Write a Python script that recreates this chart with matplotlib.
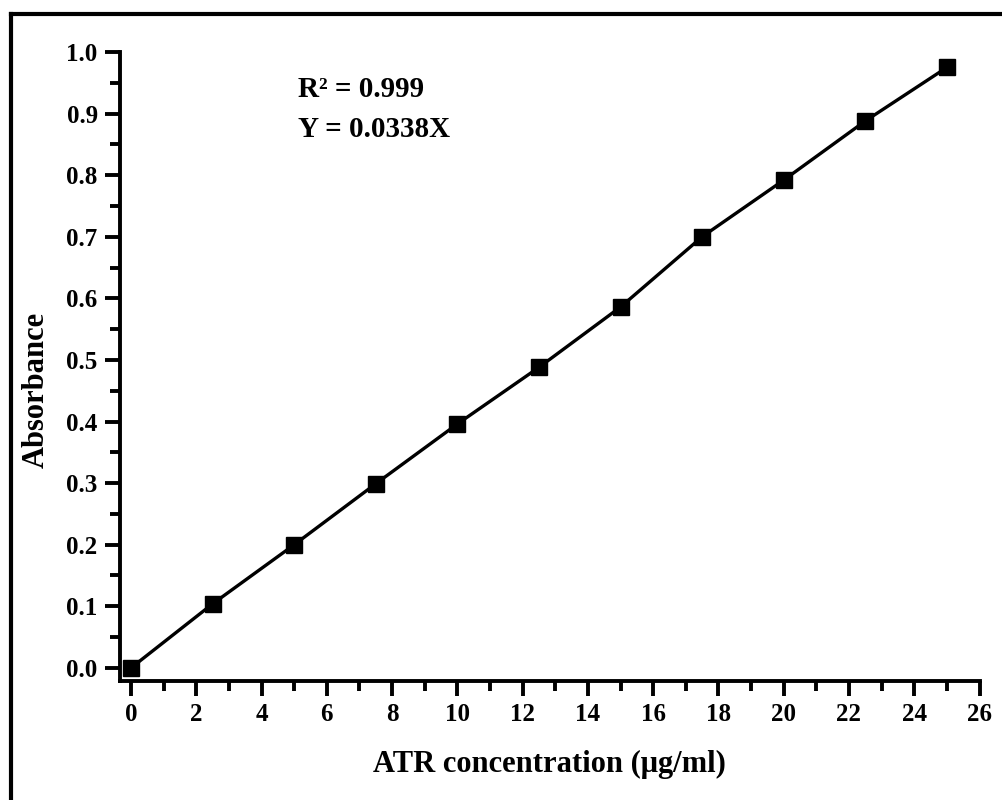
import matplotlib.pyplot as plt
from matplotlib.lines import Line2D
from matplotlib.ticker import MultipleLocator, FormatStrFormatter

concentration = [0, 2.5, 5, 7.5, 10, 12.5, 15, 17.5, 20, 22.5, 25]
absorbance = [0.0, 0.104, 0.200, 0.299, 0.396, 0.488, 0.586, 0.700, 0.792, 0.888, 0.975]
x_ticks = [0, 2, 4, 6, 8, 10, 12, 14, 16, 18, 20, 22, 24, 26]

plt.rcParams["font.family"] = ["Liberation Serif", "DejaVu Serif"]
plt.rcParams["font.weight"] = "bold"

fig = plt.figure(figsize=(10.03, 8), dpi=100)
ax = fig.add_axes([0.1196, 0.149, 0.857, 0.786])

ax.plot(concentration, absorbance, color="black", lw=2.4, marker="s",
        markersize=11, clip_on=False, zorder=3)

ax.set_xlim(-0.34, 26)
ax.set_ylim(-0.021, 1.0)
ax.set_xticks(x_ticks)
ax.xaxis.set_minor_locator(MultipleLocator(1))
ax.yaxis.set_major_locator(MultipleLocator(0.1))
ax.yaxis.set_minor_locator(MultipleLocator(0.05))
ax.yaxis.set_major_formatter(FormatStrFormatter("%.1f"))

for side in ("top", "right"):
    ax.spines[side].set_visible(False)
for side in ("left", "bottom"):
    ax.spines[side].set_linewidth(2.8)

ax.tick_params(which="major", direction="out", length=11, width=2.8,
               labelsize=18, pad=5)
ax.tick_params(which="minor", direction="out", length=7, width=2.8)
for lab in ax.get_xticklabels() + ax.get_yticklabels():
    lab.set_fontweight("bold")

ax.set_xlabel("ATR concentration (\u03bcg/ml)", fontsize=22, fontweight="bold")
ax.set_ylabel("Absorbance", fontsize=22, fontweight="bold")
ax.xaxis.set_label_coords(0.5, -0.1335)
ax.xaxis.label.set_va("center")
ax.yaxis.set_label_coords(-0.097, 0.463)
ax.yaxis.label.set_va("center")

ax.text(0.207, 0.928, "R\u00b2 = 0.999", transform=ax.transAxes,
        fontsize=21, fontweight="bold", va="baseline")
ax.text(0.207, 0.865, "Y = 0.0338X", transform=ax.transAxes,
        fontsize=21, fontweight="bold", va="baseline")

# outer frame (open at right and bottom, as in the original crop)
fig.add_artist(Line2D([0.0105, 0.0105], [0.0, 0.9825], color="black", lw=3,
                      transform=fig.transFigure))
fig.add_artist(Line2D([0.0105, 1.0], [0.9825, 0.9825], color="black", lw=3,
                      transform=fig.transFigure))

fig.savefig("out.png", dpi=100)
